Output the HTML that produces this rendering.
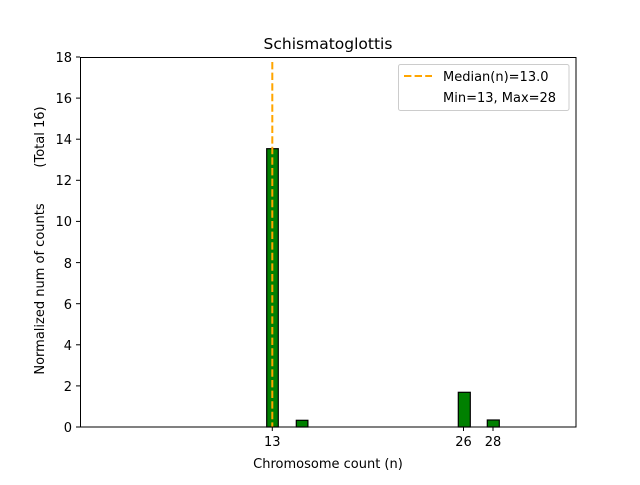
<!DOCTYPE html>
<html><head><style>body{margin:0;background:#fff}</style></head><body>
<svg width="640" height="480" xmlns="http://www.w3.org/2000/svg" font-family="DejaVu Sans, Liberation Sans, sans-serif" font-size="13">
<rect width="640" height="480" fill="#fff"/>
<g fill="#008000" stroke="#000" stroke-width="1.2">
<rect x="266.7" y="148.7" width="11.6" height="278.3"/>
<rect x="296.3" y="420.3" width="11.6" height="6.7"/>
<rect x="458.3" y="392.3" width="12" height="34.7"/>
<rect x="487.3" y="420" width="12" height="7"/>
</g>
<line x1="272.3" y1="62" x2="272.3" y2="427" stroke="#FFA500" stroke-width="2" stroke-dasharray="7.4,3.2"/>
<rect x="80.5" y="57.5" width="495.5" height="369.5" fill="none" stroke="#000" stroke-width="1"/>
<g stroke="#000">
<line x1="272.3" y1="427" x2="272.3" y2="431"/><line x1="463.5" y1="427" x2="463.5" y2="431"/><line x1="493" y1="427" x2="493" y2="431"/>
<line x1="76" y1="427" x2="80" y2="427"/><line x1="76" y1="385.9" x2="80" y2="385.9"/><line x1="76" y1="344.8" x2="80" y2="344.8"/><line x1="76" y1="303.7" x2="80" y2="303.7"/><line x1="76" y1="262.6" x2="80" y2="262.6"/><line x1="76" y1="221.4" x2="80" y2="221.4"/><line x1="76" y1="180.3" x2="80" y2="180.3"/><line x1="76" y1="139.2" x2="80" y2="139.2"/><line x1="76" y1="98.1" x2="80" y2="98.1"/><line x1="76" y1="57" x2="80" y2="57"/>
</g>
<g text-anchor="middle" font-size="13">
<text x="272.3" y="446">13</text><text x="463.5" y="446">26</text><text x="493" y="446">28</text>
<text x="328" y="468">Chromosome count (n)</text>
<text x="328" y="49" font-size="15.5">Schismatoglottis</text>
</g>
<g text-anchor="end" font-size="13">
<text x="72" y="432">0</text><text x="72" y="391">2</text><text x="72" y="350">4</text><text x="72" y="309">6</text><text x="72" y="268">8</text><text x="72" y="226">10</text><text x="72" y="185">12</text><text x="72" y="144">14</text><text x="72" y="103">16</text><text x="72" y="62">18</text>
</g>
<text transform="translate(44,289) rotate(-90)" text-anchor="middle">Normalized num of counts</text>
<text transform="translate(44,137) rotate(-90)" text-anchor="middle">(Total 16)</text>
<rect x="398.5" y="64.5" width="170.5" height="46" rx="2" fill="#fff" fill-opacity="0.8" stroke="#ccc"/>
<line x1="404" y1="76" x2="432" y2="76" stroke="#FFA500" stroke-width="2" stroke-dasharray="7.4,3.2"/>
<text x="443" y="81">Median(n)=13.0</text>
<text x="443" y="102">Min=13, Max=28</text>
</svg>
</body></html>
